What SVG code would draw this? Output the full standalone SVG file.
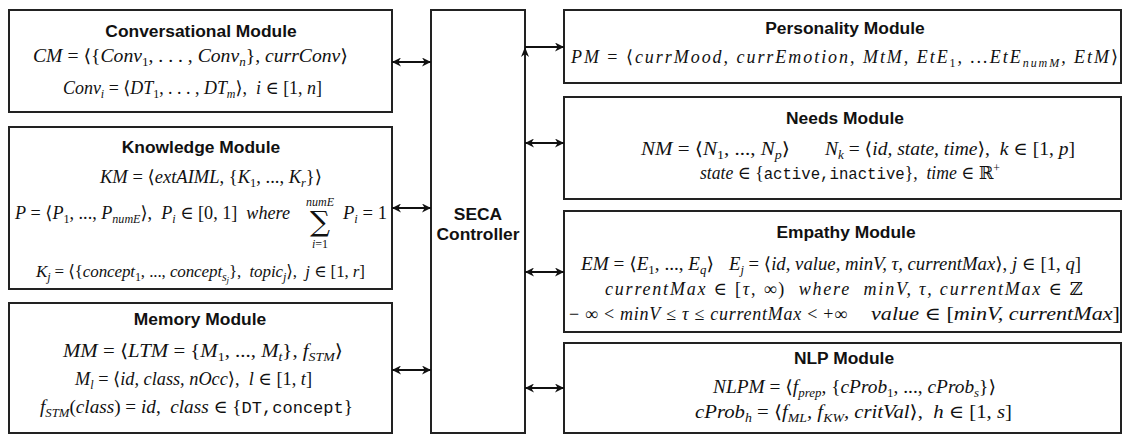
<svg xmlns="http://www.w3.org/2000/svg" width="1123" height="436" viewBox="0 0 1123 436">
<style>
.box{fill:#fff;stroke:#222;stroke-width:2}
.t{font-family:"Liberation Sans",Arial,sans-serif;font-weight:bold;font-size:17.4px;text-anchor:middle;fill:#111}
.m{font-family:"Liberation Serif","DejaVu Serif",serif;font-style:italic;font-size:18px;fill:#111;white-space:pre}
.u{font-style:normal}
.s{font-size:12px}
.tt{font-family:"Liberation Mono","DejaVu Sans Mono",monospace;font-style:normal;font-size:16px}
.c{stroke:#111;stroke-width:2;fill:none}
</style>
<defs>
<marker id="ah" viewBox="0 0 10 10" refX="10" refY="5" markerWidth="10" markerHeight="9" markerUnits="userSpaceOnUse" orient="auto-start-reverse">
<path d="M0,0 L10,5 L0,10 L3,5 z" fill="#111"/>
</marker>
</defs>
<rect width="1123" height="436" fill="#fff"/>

<g id="conversational">
<rect class="box" x="9" y="10" width="383" height="102"/>
<text class="t" x="201" y="37">Conversational Module</text>
<text class="m" x="33" y="62" textLength="315" lengthAdjust="spacingAndGlyphs">CM<tspan class="u"> = ⟨{</tspan>Conv<tspan class="s u" dy="4">1</tspan><tspan class="u" dy="-4">, . . . , </tspan>Conv<tspan class="s" dy="4">n</tspan><tspan class="u" dy="-4">}, </tspan>currConv<tspan class="u">⟩</tspan></text>
<text class="m" x="63" y="94" textLength="259" lengthAdjust="spacingAndGlyphs">Conv<tspan class="s" dy="4">i</tspan><tspan class="u" dy="-4"> = ⟨</tspan>DT<tspan class="s u" dy="4">1</tspan><tspan class="u" dy="-4">, . . . , </tspan>DT<tspan class="s" dy="4">m</tspan><tspan class="u" dy="-4">⟩,  </tspan>i<tspan class="u"> ∈ [1, </tspan>n<tspan class="u">]</tspan></text>
</g>

<g id="knowledge">
<rect class="box" x="9" y="127" width="383" height="162"/>
<text class="t" x="201" y="153">Knowledge Module</text>
<text class="m" x="100" y="183" textLength="222" lengthAdjust="spacingAndGlyphs">KM<tspan class="u"> = ⟨</tspan>extAIML<tspan class="u">, {</tspan>K<tspan class="s u" dy="4">1</tspan><tspan class="u" dy="-4">, ..., </tspan>K<tspan class="s" dy="4">r</tspan><tspan class="u" dy="-4">}⟩</tspan></text>
<text class="m" x="15" y="219" textLength="275" lengthAdjust="spacingAndGlyphs">P<tspan class="u"> = ⟨</tspan>P<tspan class="s u" dy="4">1</tspan><tspan class="u" dy="-4">, ..., </tspan>P<tspan class="s" dy="4">numE</tspan><tspan class="u" dy="-4">⟩,  </tspan>P<tspan class="s" dy="4">i</tspan><tspan class="u" dy="-4"> ∈ [0, 1]  </tspan>where</text>
<text class="m s" x="320" y="206" text-anchor="middle">numE</text>
<text x="320" y="231" text-anchor="middle" font-size="28" font-family="DejaVu Serif, serif" fill="#111">∑</text>
<text class="m s" x="320" y="248" text-anchor="middle">i<tspan class="u">=1</tspan></text>
<text class="m" x="343" y="219" textLength="44" lengthAdjust="spacingAndGlyphs">P<tspan class="s" dy="4">i</tspan><tspan class="u" dy="-4"> = 1</tspan></text>
<text class="m" x="36" y="277" textLength="329" lengthAdjust="spacing" style="font-size:17px">K<tspan class="s" dy="4">j</tspan><tspan class="u" dy="-4"> = ⟨{</tspan>concept<tspan class="s u" dy="4">1</tspan><tspan class="u" dy="-4">, ..., </tspan>concept<tspan class="s" dy="4">s</tspan><tspan style="font-size:9px" dy="2">j</tspan><tspan class="u" dy="-6">},  </tspan>topic<tspan class="s" dy="4">j</tspan><tspan class="u" dy="-4">⟩,  </tspan>j<tspan class="u"> ∈ [1, </tspan>r<tspan class="u">]</tspan></text>
</g>

<g id="memory">
<rect class="box" x="9" y="303" width="383" height="130"/>
<text class="t" x="200" y="325">Memory Module</text>
<text class="m" x="63" y="357" textLength="280" lengthAdjust="spacingAndGlyphs">MM<tspan class="u"> = ⟨</tspan>LTM<tspan class="u"> = {</tspan>M<tspan class="s u" dy="4">1</tspan><tspan class="u" dy="-4">, ..., </tspan>M<tspan class="s" dy="4">t</tspan><tspan class="u" dy="-4">}, </tspan>f<tspan class="s" dy="4">STM</tspan><tspan class="u" dy="-4">⟩</tspan></text>
<text class="m" x="75" y="385" textLength="237" lengthAdjust="spacingAndGlyphs">M<tspan class="s" dy="4">l</tspan><tspan class="u" dy="-4"> = ⟨</tspan>id, class, nOcc<tspan class="u">⟩,  </tspan>l<tspan class="u"> ∈ [1, </tspan>t<tspan class="u">]</tspan></text>
<text class="m" x="40" y="413" textLength="313" lengthAdjust="spacingAndGlyphs">f<tspan class="s" dy="4">STM</tspan><tspan class="u" dy="-4">(</tspan>class<tspan class="u">) = </tspan>id<tspan class="u">,  </tspan>class<tspan class="u"> ∈ {</tspan><tspan class="tt">DT,concept</tspan><tspan class="u">}</tspan></text>
</g>

<g id="seca">
<rect class="box" x="431" y="10" width="94" height="423"/>
<text class="t" x="478" y="220">SECA</text>
<text class="t" x="478" y="240">Controller</text>
</g>

<g id="personality">
<rect class="box" x="564" y="10" width="557" height="73"/>
<text class="t" x="845" y="34">Personality Module</text>
<text class="m" x="571" y="63" textLength="547" lengthAdjust="spacing">PM<tspan class="u"> = ⟨</tspan>currMood, currEmotion, MtM, EtE<tspan class="s u" dy="4">1</tspan><tspan dy="-4">, ...EtE</tspan><tspan class="s" dy="4">numM</tspan><tspan dy="-4">, EtM</tspan><tspan class="u">⟩</tspan></text>
</g>

<g id="needs">
<rect class="box" x="564" y="97" width="557" height="102"/>
<text class="t" x="845" y="124">Needs Module</text>
<text class="m" x="641" y="155" textLength="149" lengthAdjust="spacingAndGlyphs">NM<tspan class="u"> = ⟨</tspan>N<tspan class="s u" dy="4">1</tspan><tspan class="u" dy="-4">, ..., </tspan>N<tspan class="s" dy="4">p</tspan><tspan class="u" dy="-4">⟩</tspan></text>
<text class="m" x="825" y="155" textLength="250" lengthAdjust="spacingAndGlyphs">N<tspan class="s" dy="4">k</tspan><tspan class="u" dy="-4"> = ⟨</tspan>id, state, time<tspan class="u">⟩,  </tspan>k<tspan class="u"> ∈ [1, </tspan>p<tspan class="u">]</tspan></text>
<text class="m" x="700" y="179" textLength="300" lengthAdjust="spacingAndGlyphs">state<tspan class="u"> ∈ {</tspan><tspan class="tt">active,inactive</tspan><tspan class="u">},  </tspan>time<tspan class="u"> ∈ ℝ</tspan><tspan class="s u" dy="-7">+</tspan></text>
</g>

<g id="empathy">
<rect class="box" x="564" y="211" width="557" height="121"/>
<text class="t" x="846" y="238">Empathy Module</text>
<text class="m" x="581" y="270" textLength="133" lengthAdjust="spacingAndGlyphs">EM<tspan class="u"> = ⟨</tspan>E<tspan class="s u" dy="4">1</tspan><tspan class="u" dy="-4">, ..., </tspan>E<tspan class="s" dy="4">q</tspan><tspan class="u" dy="-4">⟩</tspan></text>
<text class="m" x="729" y="270" textLength="352" lengthAdjust="spacingAndGlyphs">E<tspan class="s" dy="4">j</tspan><tspan class="u" dy="-4"> = ⟨</tspan>id, value, minV, τ, currentMax<tspan class="u">⟩, </tspan>j<tspan class="u"> ∈ [1, </tspan>q<tspan class="u">]</tspan></text>
<text class="m" x="605" y="295" textLength="478" lengthAdjust="spacing">currentMax<tspan class="u"> ∈ [</tspan>τ<tspan class="u">, ∞)  </tspan>where  minV, τ, currentMax<tspan class="u"> ∈ ℤ</tspan></text>
<text class="m" x="569" y="320" textLength="278" lengthAdjust="spacing"><tspan class="u">− ∞ &lt; </tspan>minV<tspan class="u"> ≤ </tspan>τ<tspan class="u"> ≤ </tspan>currentMax<tspan class="u"> &lt; +∞</tspan></text>
<text class="m" x="871" y="320" textLength="249" lengthAdjust="spacingAndGlyphs">value<tspan class="u"> ∈ [</tspan>minV, currentMax<tspan class="u">]</tspan></text>
</g>

<g id="nlp">
<rect class="box" x="564" y="343" width="557" height="90"/>
<text class="t" x="844" y="364">NLP Module</text>
<text class="m" x="713" y="393" textLength="283" lengthAdjust="spacingAndGlyphs">NLPM<tspan class="u"> = ⟨</tspan>f<tspan class="s" dy="4">prep</tspan><tspan class="u" dy="-4">, {</tspan>cProb<tspan class="s u" dy="4">1</tspan><tspan class="u" dy="-4">, ..., </tspan>cProb<tspan class="s" dy="4">s</tspan><tspan class="u" dy="-4">}⟩</tspan></text>
<text class="m" x="695" y="418" textLength="317" lengthAdjust="spacingAndGlyphs">cProb<tspan class="s" dy="4">h</tspan><tspan class="u" dy="-4"> = ⟨</tspan>f<tspan class="s" dy="4">ML</tspan><tspan dy="-4">, </tspan>f<tspan class="s" dy="4">KW</tspan><tspan dy="-4">, critVal</tspan><tspan class="u">⟩,  </tspan>h<tspan class="u"> ∈ [1, </tspan>s<tspan class="u">]</tspan></text>
</g>

<g id="connectors">
<line class="c" x1="392" y1="62" x2="431" y2="62" marker-start="url(#ah)" marker-end="url(#ah)"/>
<line class="c" x1="392" y1="208" x2="431" y2="208" marker-start="url(#ah)" marker-end="url(#ah)"/>
<line class="c" x1="392" y1="370" x2="431" y2="370" marker-start="url(#ah)" marker-end="url(#ah)"/>
<line class="c" x1="525" y1="47" x2="564" y2="47" marker-end="url(#ah)"/>
<path d="M525,47 L529,57 L525,54 L521,57 z" fill="#111"/>
<line class="c" x1="525" y1="143" x2="564" y2="143" marker-start="url(#ah)" marker-end="url(#ah)"/>
<line class="c" x1="525" y1="272" x2="564" y2="272" marker-start="url(#ah)" marker-end="url(#ah)"/>
<line class="c" x1="525" y1="388" x2="564" y2="388" marker-start="url(#ah)" marker-end="url(#ah)"/>
</g>
</svg>
